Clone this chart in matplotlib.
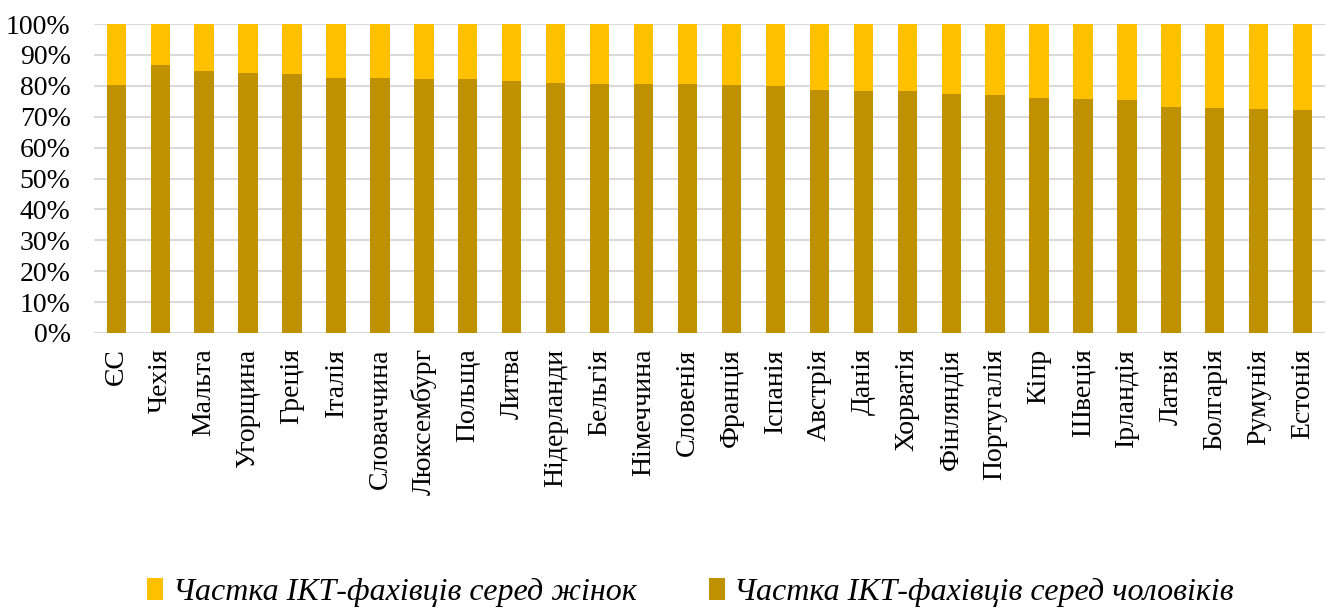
import matplotlib
matplotlib.use("Agg")
import matplotlib.pyplot as plt
import numpy as np

countries = ["ЄС", "Чехія", "Мальта", "Угорщина", "Греція", "Італія", "Словаччина",
             "Люксембург", "Польща", "Литва", "Нідерланди", "Бельгія", "Німеччина",
             "Словенія", "Франція", "Іспанія", "Австрія", "Данія", "Хорватія",
             "Фінляндія", "Португалія", "Кіпр", "Швеція", "Ірландія", "Латвія",
             "Болгарія", "Румунія", "Естонія"]
men = [80.2, 86.7, 84.9, 84.3, 83.7, 82.5, 82.4, 82.2, 82.1, 81.5, 81.0, 80.6, 80.5,
       80.5, 80.3, 80.0, 78.6, 78.4, 78.3, 77.4, 77.1, 76.0, 75.8, 75.4, 73.0,
       72.7, 72.5, 72.1]
women = [100 - m for m in men]

label_women = "Частка ІКТ-фахівців серед жінок"
label_men = "Частка ІКТ-фахівців серед чоловіків"
color_women = "#FFC000"
color_men = "#BF9000"

plt.rcParams['font.family'] = ['Liberation Serif', 'DejaVu Serif']

fig = plt.figure(figsize=(13.28, 6.11), dpi=100)
ax = fig.add_axes([0.071, 0.455, 0.9265, 0.5057])

x = np.arange(len(countries))
w = 0.44
ax.bar(x, men, width=w, color=color_men, label=label_men, zorder=3)
ax.bar(x, women, width=w, bottom=men, color=color_women, label=label_women, zorder=3)

ax.set_xlim(-0.5, len(countries) - 0.5)
ax.set_ylim(0, 100)
ax.set_yticks(np.arange(0, 101, 10))
ax.set_yticklabels([f"{v}%" for v in range(0, 101, 10)], fontsize=20)
ax.set_xticks(x)
ax.set_xticklabels(countries, rotation=90, fontsize=20)
ax.tick_params(axis='both', length=0)
ax.tick_params(axis='x', pad=11)
ax.tick_params(axis='y', pad=17)
ax.grid(axis='y', color='#d9d9d9', linewidth=1.5, zorder=0)
for s in ax.spines.values():
    s.set_visible(False)

handles, labels = ax.get_legend_handles_labels()
leg = fig.legend(handles[::-1], labels[::-1], loc='center', bbox_to_anchor=(0.52, 0.03),
                 ncol=2, frameon=False, prop={'style': 'italic', 'size': 23},
                 handlelength=0.5, handleheight=0.7, handletextpad=0.3, columnspacing=2.25)

fig.savefig("out.png", dpi=100)
